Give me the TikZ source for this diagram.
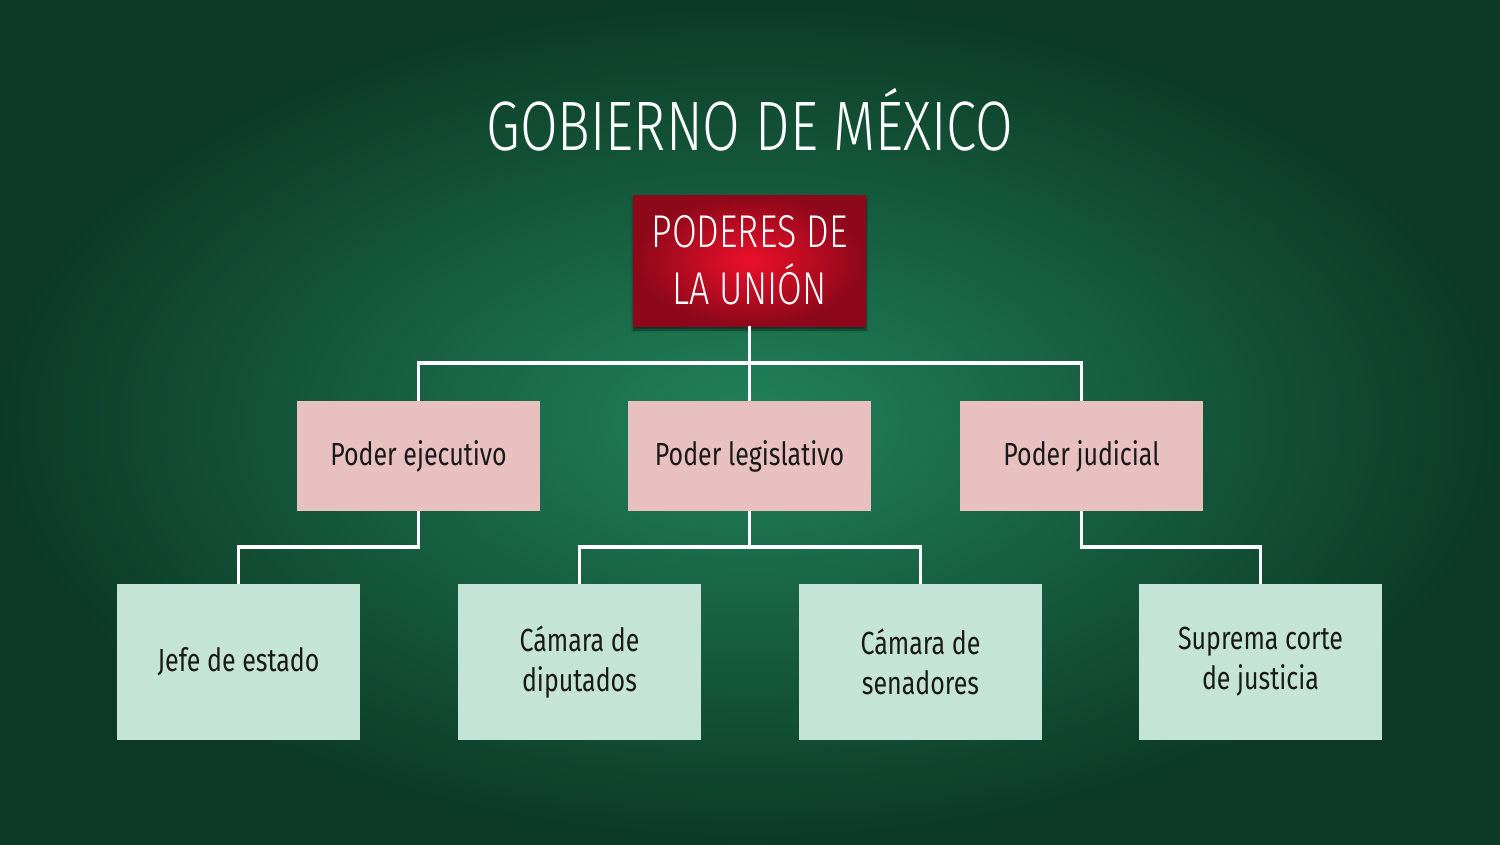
\documentclass[tikz,border=0pt]{standalone}
\usepackage{fontspec}
\setmainfont[FakeStretch=0.78]{Fira Sans}
\newfontfamily\titlefont[FakeStretch=0.78]{Fira Sans Light}
\usetikzlibrary{shadows.blur}
\definecolor{bgin}{RGB}{33,130,90}
\definecolor{bgout}{RGB}{12,58,38}
\definecolor{redin}{RGB}{236,16,42}
\definecolor{redout}{RGB}{140,8,26}
\definecolor{pinkbox}{RGB}{232,192,192}
\definecolor{mintbox}{RGB}{197,228,216}
\definecolor{txt}{RGB}{25,25,25}
\tikzset{
  redbox/.style={rectangle, inner color=redin, outer color=redout, minimum width=233pt, minimum height=131pt, text=white, align=center, font=\titlefont\fontsize{46}{57}\selectfont, blur shadow={shadow blur steps=8, shadow xshift=0pt, shadow yshift=-4pt, shadow opacity=50}},
  pinkbox/.style={rectangle, fill=pinkbox, minimum width=243pt, minimum height=110pt, text=txt, align=center, font=\fontsize{32}{40}\selectfont},
  mintbox/.style={rectangle, fill=mintbox, minimum width=243pt, minimum height=156pt, text=txt, align=center, font=\fontsize{32}{40}\selectfont},
  conn/.style={draw=white, line width=3.5pt}
}
\begin{document}
\begin{tikzpicture}[x=1pt,y=-1pt]
\shade[inner color=bgin, outer color=bgout] (0,0) rectangle (1500,844);
\useasboundingbox (0,0) rectangle (1500,844);
\node[text=white, font=\titlefont\fontsize{70}{74}\selectfont] (title) at (750,120) {GOBIERNO DE MÉXICO};
\node[redbox] (red) at (749.5,260.5) {PODERES DE\\LA UNIÓN};
\node[pinkbox] (pe) at (418.5,456) {Poder ejecutivo};
\node[pinkbox] (pl) at (749.5,456) {Poder legislativo};
\node[pinkbox] (pj) at (1081.5,456) {Poder judicial};
\node[mintbox] (m1) at (238.5,662) {Jefe de estado};
\node[mintbox] (m2) at (579.5,662) {Cámara de\\diputados};
\node[mintbox] (m3) at (920.5,662) {Cámara de\\senadores};
\node[mintbox] (m4) at (1260.5,662) {Suprema corte\\de justicia};
\coordinate (j0) at (749.5,363);
\coordinate (j1) at (418.5,547);
\coordinate (j2) at (749.5,547);
\coordinate (j3) at (1081.5,547);
\draw[conn] (red.south) -- (j0);
\draw[conn] (j0) -| (pe.north);
\draw[conn] (j0) -| (pj.north);
\draw[conn] (j0) -- (pl.north);
\draw[conn] (pe.south) -- (j1) -| (m1.north);
\draw[conn] (pl.south) -- (j2);
\draw[conn] (j2) -| (m2.north);
\draw[conn] (j2) -| (m3.north);
\draw[conn] (pj.south) -- (j3) -| (m4.north);
\end{tikzpicture}
\end{document}
